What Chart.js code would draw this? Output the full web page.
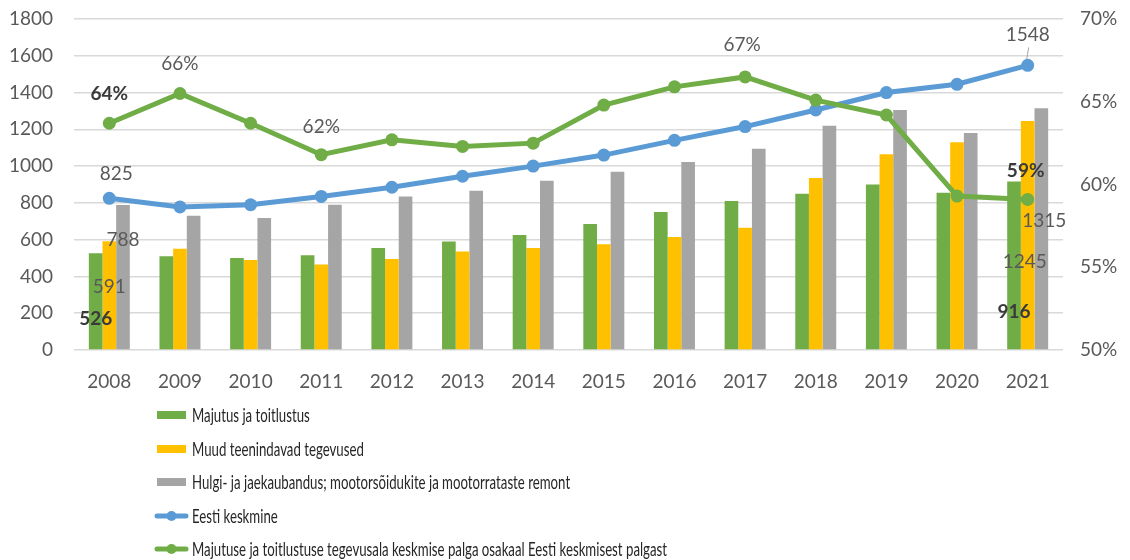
<!DOCTYPE html>
<html>
<head>
<meta charset="utf-8">
<script src="https://cdn.jsdelivr.net/npm/chart.js@4.4.1/dist/chart.umd.min.js"></script>
<style>
html,body{margin:0;padding:0;background:#fff;}
#wrap{width:1130px;height:560px;}
</style>
</head>
<body>
<div id="wrap"><canvas id="c" width="1130" height="560"></canvas></div>
<script>
const years = ['2008','2009','2010','2011','2012','2013','2014','2015','2016','2017','2018','2019','2020','2021'];
const majutus = [526,510,500,515,555,590,625,685,750,810,850,900,855,916];
const muud = [591,550,490,465,495,535,555,575,615,665,935,1065,1130,1245];
const hulgi = [788,730,718,790,835,866,920,970,1022,1095,1220,1305,1180,1315];
const eesti = [825,778,790,835,885,945,1000,1060,1140,1215,1305,1400,1445,1548];
const osakaal = [63.7,65.5,63.7,61.8,62.7,62.3,62.5,64.8,65.9,66.5,65.1,64.2,59.3,59.1];
const seriesNames = [
  'Majutus ja toitlustus',
  'Muud teenindavad tegevused',
  'Hulgi- ja jaekaubandus; mootorsõidukite ja mootorrataste remont',
  'Eesti keskmine',
  'Majutuse ja toitlustuse tegevusala keskmise palga osakaal Eesti keskmisest palgast'
];
const colors = ['#70AD47','#FFC000','#A5A5A5','#5B9BD5','#70AD47'];
const FONT = 'Lato, "Open Sans", sans-serif';
const LEGEND_FONT = '"Liberation Sans Narrow", Lato, sans-serif';

// label placement (style only)
const labelSpecs = [
  {ds:4,i:0,dx:0,dy:-29,bold:true},
  {ds:4,i:1,dx:0,dy:-30},
  {ds:4,i:3,dx:0,dy:-28},
  {ds:4,i:9,dx:-3,dy:-32},
  {ds:4,i:13,dx:-2,dy:-29,bold:true},
  {ds:3,i:0,dx:7,dy:-24},
  {ds:3,i:13,dx:0,dy:-30,leader:true},
  {ds:0,i:0,dx:0,dy:66,bold:true},
  {ds:1,i:0,dx:0,dy:46},
  {ds:2,i:0,dx:0,dy:35},
  {ds:0,i:13,dx:0,dy:130,bold:true},
  {ds:1,i:13,dx:-3,dy:141},
  {ds:2,i:13,dx:3,dy:113}
];

const labelPlugin = {
  id:'labels',
  afterDatasetsDraw(chart){
    const ctx = chart.ctx;
    ctx.save();
    ctx.textAlign='center';
    ctx.textBaseline='middle';
    labelSpecs.forEach(s=>{
      const el = chart.getDatasetMeta(s.ds).data[s.i];
      const v = chart.data.datasets[s.ds].data[s.i];
      const txt = s.ds===4 ? Math.round(v)+'%' : String(v);
      ctx.font = (s.bold?'bold ':'') + '19px ' + FONT;
      ctx.fillStyle = s.bold ? '#3a3a3a' : '#595959';
      const x = el.x + s.dx, y = el.y + s.dy;
      ctx.fillText(txt, x, y);
      if(s.leader){
        ctx.strokeStyle='#a6a6a6';
        ctx.lineWidth=1;
        ctx.beginPath();
        ctx.moveTo(el.x+1, y+12);
        ctx.lineTo(el.x-1, el.y-6);
        ctx.stroke();
      }
    });
    ctx.restore();
  }
};

const legendPlugin = {
  id:'customLegend',
  afterDraw(chart){
    const ctx = chart.ctx;
    const rows = [415,449,482,516,549];
    const x0 = 157, x1 = 186, tx = 192, targetW = 475;
    ctx.save();
    ctx.font = '20px ' + LEGEND_FONT;
    const longest = Math.max(...chart.data.datasets.map(d=>ctx.measureText(d.label).width));
    const sx = Math.min(1, targetW/longest);
    chart.data.datasets.forEach((d,k)=>{
      const y = rows[k];
      if(d.type==='line'){
        ctx.strokeStyle=d.borderColor; ctx.lineWidth=5; ctx.lineCap='round';
        ctx.beginPath(); ctx.moveTo(x0,y); ctx.lineTo(x1,y); ctx.stroke();
        ctx.fillStyle=d.borderColor;
        ctx.beginPath(); ctx.arc((x0+x1)/2,y,5,0,Math.PI*2); ctx.fill();
      } else {
        ctx.fillStyle=d.backgroundColor;
        ctx.fillRect(x0,y-4,x1-x0,8);
      }
      ctx.save();
      ctx.translate(tx,y);
      ctx.scale(sx,1);
      ctx.fillStyle='#262626';
      ctx.textAlign='left'; ctx.textBaseline='middle';
      ctx.fillText(d.label,0,1);
      ctx.restore();
    });
    ctx.restore();
  }
};

const barDs = (k,data,order)=>({type:'bar',label:seriesNames[k],data,backgroundColor:colors[k],borderWidth:0,yAxisID:'y',order,categoryPercentage:0.58,barPercentage:1});

new Chart(document.getElementById('c'),{
  data:{
    labels:years,
    datasets:[
      barDs(0,majutus,3),
      barDs(1,muud,4),
      barDs(2,hulgi,5),
      {type:'line',label:seriesNames[3],data:eesti,borderColor:colors[3],backgroundColor:colors[3],borderWidth:5,pointRadius:6.5,pointBorderWidth:0,pointBackgroundColor:colors[3],yAxisID:'y',order:2,tension:0},
      {type:'line',label:seriesNames[4],data:osakaal,borderColor:colors[4],backgroundColor:colors[4],borderWidth:5,pointRadius:6.5,pointBorderWidth:0,pointBackgroundColor:colors[4],yAxisID:'y1',order:1,tension:0}
    ]
  },
  options:{
    responsive:false,
    animation:false,
    layout:{padding:{top:19,left:0,right:0,bottom:0}},
    plugins:{legend:{display:false},tooltip:{enabled:false}},
    scales:{
      x:{
        grid:{display:false,drawTicks:false},
        border:{display:false},
        ticks:{color:'#595959',font:{family:FONT,size:19},padding:20,maxRotation:0},
        afterFit(s){s.height=210;}
      },
      y:{
        position:'left',min:0,max:1800,
        ticks:{stepSize:200,color:'#595959',font:{family:FONT,size:19},padding:21,callback:v=>String(v)},
        grid:{color:'#d9d9d9',lineWidth:1.5,drawTicks:false},
        border:{display:false},
        afterFit(s){s.width=74;s.paddingTop=0;s.paddingBottom=0;}
      },
      y1:{
        position:'right',min:50,max:70,
        ticks:{stepSize:5,color:'#595959',font:{family:FONT,size:19},padding:17,callback:v=>v+'%'},
        grid:{display:false,drawTicks:false},
        border:{display:false},
        afterFit(s){s.width=67;s.paddingTop=0;s.paddingBottom=0;}
      }
    }
  },
  plugins:[labelPlugin,legendPlugin]
});
</script>
</body>
</html>
